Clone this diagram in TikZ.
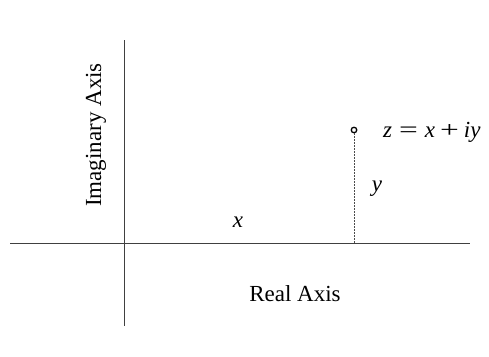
\documentclass[tikz,border=0pt]{standalone}
\usepackage{fontspec}
\usepackage{graphicx}
\setmainfont{Liberation Serif}
\newcommand{\wideop}[1]{\scalebox{1.45}[1]{#1}}
\begin{document}
\begin{tikzpicture}[x=1pt,y=-1pt,
  axis/.style={draw=black!75,line width=1pt},
  lbl/.style={font=\fontsize{23}{27}\selectfont,inner sep=0pt},
  guide/.style={draw=black!70,line width=0.9pt,dash pattern=on 2pt off 1pt}]
\useasboundingbox (0,0) rectangle (489,356);
\coordinate (hl) at (10,243);
\coordinate (hr) at (470,243);
\coordinate (vt) at (124,40);
\coordinate (vb) at (124,326);
\coordinate (foot) at (354,243);
\draw[axis] (hl) -- (hr);
\draw[axis] (vt) -- (vb);
\node[circle,draw=black,line width=1.3pt,minimum size=5.5pt,inner sep=0pt] (pt) at (354,130) {};
\draw[guide] (pt) -- (foot);
\node[lbl,anchor=west] (zl) at (383,132) {\textit{z}\hspace{7pt}\wideop{=}\hspace{7pt}\textit{x}\hspace{5pt}\wideop{+}\hspace{5pt}\textit{iy}};
\node[lbl] (yl) at (377,189) {\textit{y}};
\node[lbl] (xl) at (238,222) {\textit{x}};
\node[lbl] (ra) at (295,294) {Real Axis};
\node[lbl,rotate=90] (ia) at (96,135) {Imaginary Axis};
\end{tikzpicture}
\end{document}
